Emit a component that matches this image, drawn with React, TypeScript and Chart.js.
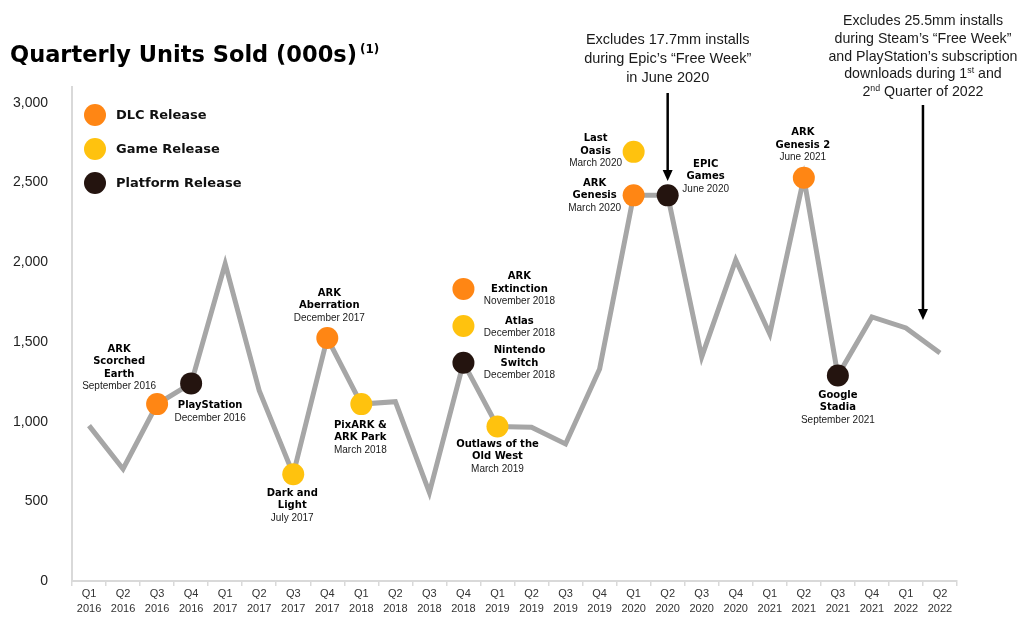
import React, { useEffect, useRef } from "react";
import { Chart, registerables } from "chart.js";

Chart.register(...registerables);

// ---------- data ----------
const quarterLabels: string[][] = [
  ["Q1", "2016"], ["Q2", "2016"], ["Q3", "2016"], ["Q4", "2016"],
  ["Q1", "2017"], ["Q2", "2017"], ["Q3", "2017"], ["Q4", "2017"],
  ["Q1", "2018"], ["Q2", "2018"], ["Q3", "2018"], ["Q4", "2018"],
  ["Q1", "2019"], ["Q2", "2019"], ["Q3", "2019"], ["Q4", "2019"],
  ["Q1", "2020"], ["Q2", "2020"], ["Q3", "2020"], ["Q4", "2020"],
  ["Q1", "2021"], ["Q2", "2021"], ["Q3", "2021"], ["Q4", "2021"],
  ["Q1", "2022"], ["Q2", "2022"],
];

const unitsSold = [
  975, 703, 1110, 1240, 1990, 1195, 670, 1525, 1110, 1125, 555, 1370, 970,
  965, 860, 1330, 2420, 2420, 1406, 2015, 1550, 2530, 1290, 1657, 1588, 1431,
];

const N = null;
const dlcReleases = [
  N, N, 1110, N, N, N, N, 1525, N, N, N, 1833, N,
  N, N, N, 2420, N, N, N, N, 2530, N, N, N, N,
];
const gameReleases = [
  N, N, N, N, N, N, 670, N, 1110, N, N, 1600, 970,
  N, N, N, 2693, N, N, N, N, N, N, N, N, N,
];
const platformReleases = [
  N, N, N, 1240, N, N, N, N, N, N, N, 1370, N,
  N, N, N, N, 2420, N, N, N, N, 1290, N, N, N,
];

const yTickValues = [0, 500, 1000, 1500, 2000, 2500, 3000];

const legendItems = ["DLC Release", "Game Release", "Platform Release"];

const releaseNotes = [
  { index: 2, value: 1110, title: ["ARK", "Scorched", "Earth"], date: "September 2016" },
  { index: 3, value: 1240, title: ["PlayStation"], date: "December 2016" },
  { index: 7, value: 1525, title: ["ARK", "Aberration"], date: "December 2017" },
  { index: 6, value: 670, title: ["Dark and", "Light"], date: "July 2017" },
  { index: 8, value: 1110, title: ["PixARK &", "ARK Park"], date: "March 2018" },
  { index: 11, value: 1833, title: ["ARK", "Extinction"], date: "November 2018" },
  { index: 11, value: 1600, title: ["Atlas"], date: "December 2018" },
  { index: 11, value: 1370, title: ["Nintendo", "Switch"], date: "December 2018" },
  { index: 12, value: 970, title: ["Outlaws of the", "Old West"], date: "March 2019" },
  { index: 16, value: 2693, title: ["Last", "Oasis"], date: "March 2020" },
  { index: 16, value: 2420, title: ["ARK", "Genesis"], date: "March 2020" },
  { index: 17, value: 2420, title: ["EPIC", "Games"], date: "June 2020" },
  { index: 21, value: 2530, title: ["ARK", "Genesis 2"], date: "June 2021" },
  { index: 22, value: 1290, title: ["Google", "Stadia"], date: "September 2021" },
];

const epicNote = [
  [{ t: "Excludes 17.7mm installs" }],
  [{ t: "during Epic\u2019s \u201CFree Week\u201D" }],
  [{ t: "in June 2020" }],
];
const steamNote = [
  [{ t: "Excludes 25.5mm installs" }],
  [{ t: "during Steam\u2019s \u201CFree Week\u201D" }],
  [{ t: "and PlayStation\u2019s subscription" }],
  [{ t: "downloads during 1" }, { t: "st", sup: true }, { t: " and" }],
  [{ t: "2" }, { t: "nd", sup: true }, { t: " Quarter of 2022" }],
];

// ---------- layout / style ----------
const COLORS = {
  line: "#a6a6a6",
  dlc: "#ff8614",
  game: "#ffc20e",
  platform: "#24140f",
  axis: "#d9d9d9",
};
const BOLD = '"DejaVu Sans"';
const REG = '"Liberation Sans", Arial, sans-serif';

// [dx, dy of first line] relative to each note's anchor point
const noteOffsets: number[][] = [
  [-38, -55], [19, 22], [2, -45], [-1, 19], [-1, 21], [56, -12], [56, -5],
  [56, -12], [0, 18], [-38, -13], [-39, -12], [38, -31], [-1, -45], [0, 20],
];

type Seg = { t: string; sup?: boolean };

function drawRich(ctx: CanvasRenderingContext2D, segs: Seg[], cx: number, y: number, size: number) {
  const widths = segs.map((s) => {
    ctx.font = `${s.sup ? size * 0.62 : size}px ${REG}`;
    return ctx.measureText(s.t).width;
  });
  const total = widths.reduce((a, b) => a + b, 0);
  let x = cx - total / 2;
  ctx.textAlign = "left";
  ctx.textBaseline = "alphabetic";
  segs.forEach((s, i) => {
    ctx.font = `${s.sup ? size * 0.62 : size}px ${REG}`;
    ctx.fillText(s.t, x, s.sup ? y - size * 0.38 : y);
    x += widths[i];
  });
}

function drawArrow(ctx: CanvasRenderingContext2D, x: number, y0: number, y1: number) {
  ctx.save();
  ctx.strokeStyle = "#000";
  ctx.fillStyle = "#000";
  ctx.lineWidth = 2.5;
  ctx.beginPath();
  ctx.moveTo(x, y0);
  ctx.lineTo(x, y1 - 9);
  ctx.stroke();
  ctx.beginPath();
  ctx.moveTo(x - 5, y1 - 11);
  ctx.lineTo(x + 5, y1 - 11);
  ctx.lineTo(x, y1);
  ctx.closePath();
  ctx.fill();
  ctx.restore();
}

const overlayPlugin = {
  id: "overlay",
  afterDraw(chart: any) {
    const ctx: CanvasRenderingContext2D = chart.ctx;
    const xs = chart.scales.x;
    const ys = chart.scales.y;
    ctx.save();

    // title
    ctx.fillStyle = "#000";
    ctx.textAlign = "left";
    ctx.textBaseline = "alphabetic";
    ctx.font = `bold 22.5px ${BOLD}`;
    const title = "Quarterly Units Sold (000s)";
    ctx.fillText(title, 10, 62);
    const tw = ctx.measureText(title).width;
    ctx.font = `bold 12px ${BOLD}`;
    ctx.fillText("(1)", 10 + tw + 3, 53);

    // legend
    const legendColors = [COLORS.dlc, COLORS.game, COLORS.platform];
    legendItems.forEach((label, i) => {
      const y = 115 + i * 34;
      ctx.beginPath();
      ctx.fillStyle = legendColors[i];
      ctx.arc(95, y, 11, 0, Math.PI * 2);
      ctx.fill();
      ctx.fillStyle = "#111";
      ctx.font = `bold 13px ${BOLD}`;
      ctx.textBaseline = "middle";
      ctx.fillText(label, 116, y + 1);
    });

    // release notes
    ctx.textAlign = "center";
    ctx.textBaseline = "middle";
    releaseNotes.forEach((n, i) => {
      const [dx, dy] = noteOffsets[i];
      const px = xs.getPixelForValue(n.index) + dx;
      let y = ys.getPixelForValue(n.value) + dy;
      ctx.fillStyle = "#000";
      ctx.font = `bold 10px ${BOLD}`;
      n.title.forEach((t) => {
        ctx.fillText(t, px, y);
        y += 12.4;
      });
      ctx.fillStyle = "#1a1a1a";
      ctx.font = `10px ${REG}`;
      ctx.fillText(n.date, px, y);
    });

    // arrows and notes
    ctx.fillStyle = "#1a1a1a";
    const ax1 = xs.getPixelForValue(17);
    epicNote.forEach((segs, i) => drawRich(ctx, segs, ax1, 44 + i * 19.2, 14.5));
    drawArrow(ctx, ax1, 93, 181);

    const ax2 = (xs.getPixelForValue(24) + xs.getPixelForValue(25)) / 2;
    ctx.fillStyle = "#1a1a1a";
    steamNote.forEach((segs, i) => drawRich(ctx, segs, ax2, 25 + i * 17.8, 14.2));
    drawArrow(ctx, ax2, 105, 320);

    ctx.restore();
  },
};

function markerDataset(label: string, data: (number | null)[], color: string) {
  return {
    label,
    data,
    showLine: false,
    pointRadius: 11,
    pointHoverRadius: 11,
    pointBackgroundColor: color,
    pointBorderWidth: 0,
    borderColor: color,
    backgroundColor: color,
  };
}

export default function App() {
  const ref = useRef<HTMLCanvasElement | null>(null);

  useEffect(() => {
    if (!ref.current) return;
    const chart = new Chart(ref.current, {
      type: "line",
      data: {
        labels: quarterLabels,
        datasets: [
          markerDataset("DLC Release", dlcReleases, COLORS.dlc),
          markerDataset("Game Release", gameReleases, COLORS.game),
          markerDataset("Platform Release", platformReleases, COLORS.platform),
          {
            label: "Units",
            data: unitsSold,
            borderColor: COLORS.line,
            borderWidth: 5,
            pointRadius: 0,
            tension: 0,
            fill: false,
          } as any,
        ],
      },
      options: {
        animation: false,
        responsive: false,
        layout: { padding: { top: 87, right: 66, left: 0, bottom: 0 } },
        plugins: { legend: { display: false }, tooltip: { enabled: false } },
        scales: {
          x: {
            type: "category",
            offset: true,
            grid: {
              offset: true,
              display: true,
              drawOnChartArea: false,
              drawTicks: true,
              tickLength: 5,
              color: COLORS.axis,
              lineWidth: 1.5,
            },
            border: { display: true, color: COLORS.axis, width: 2 },
            ticks: {
              color: "#333",
              font: { family: REG, size: 11, lineHeight: "15px" },
              padding: 0,
              maxRotation: 0,
              autoSkip: false,
            },
            afterFit: (s: any) => {
              s.height = 36;
            },
          },
          y: {
            min: 0,
            max: 3100,
            grid: { display: false },
            border: { display: true, color: COLORS.axis, width: 2 },
            ticks: {
              color: "#222",
              font: { family: REG, size: 14 },
              padding: 16,
              callback: (v: any) => Number(v).toLocaleString("en-US"),
            },
            afterBuildTicks: (s: any) => {
              s.ticks = yTickValues.map((v) => ({ value: v }));
            },
            afterFit: (s: any) => {
              s.width = 72;
            },
          },
        },
      },
      plugins: [overlayPlugin],
    } as any);
    return () => chart.destroy();
  }, []);

  return (
    <div style={{ position: "absolute", left: 0, top: 0, width: 1023, height: 617, background: "#fff" }}>
      <canvas ref={ref} width={1023} height={617} style={{ display: "block" }} />
    </div>
  );
}
